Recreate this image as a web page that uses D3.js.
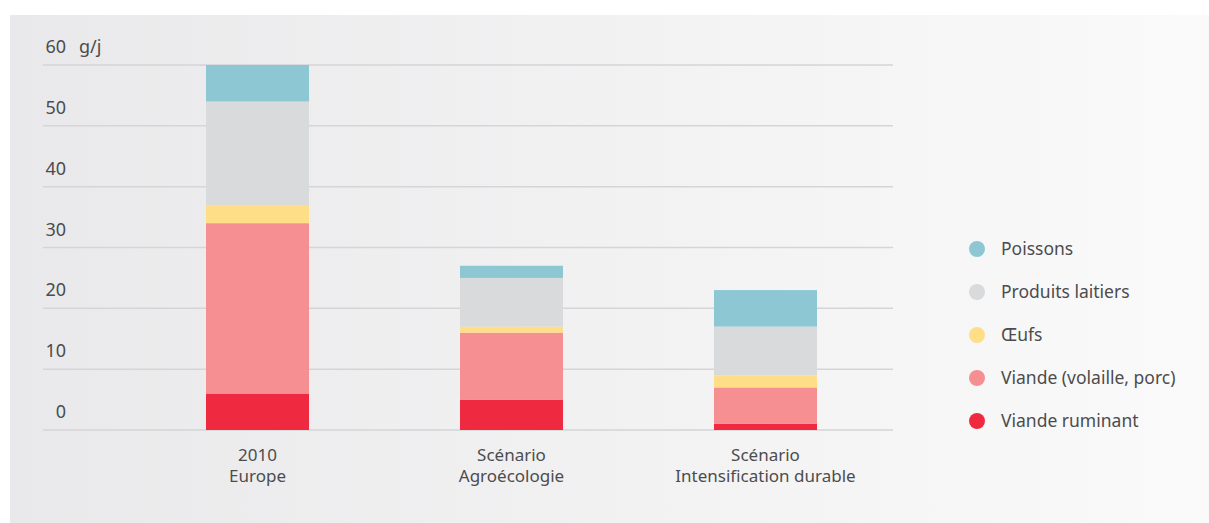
<!DOCTYPE html>
<html>
<head>
<meta charset="utf-8">
<script src="https://cdn.jsdelivr.net/npm/d3@7"></script>
<style>
	body { margin: 0; background: #fff; }
	text { font-family: "Noto Sans", "Open Sans", sans-serif; fill: #4c4c4e; }
</style>
</head>
<body>
<div id="chart"></div>
<script>
// categories (2 lines each)
var categories = [["2010", "Europe"], ["Scénario", "Agroécologie"], ["Scénario", "Intensification durable"]];
// series, bottom to top
var series = ["Viande ruminant", "Viande (volaille, porc)", "Œufs", "Produits laitiers", "Poissons"];
var colors = ["#ef2a40", "#f58f92", "#ffde88", "#d9dadc", "#8cc7d3"];
var values = [
	[6, 5, 1],      // viande ruminant
	[28, 11, 6],    // volaille, porc
	[3, 1, 2],      // oeufs
	[17, 8, 8],     // produits laitiers
	[6, 2, 6]       // poissons
];
var yTicks = [0, 10, 20, 30, 40, 50, 60];

var W = 1209, H = 523;

var svg = d3.select("#chart").append("svg")
	.attr("width", W)
	.attr("height", H);

// background panel with gradient
var grad = svg.append("defs").append("linearGradient")
	.attr("id", "bg").attr("x1", "0").attr("x2", "1").attr("y1", "0").attr("y2", "0");
grad.append("stop").attr("offset", "0").attr("stop-color", "#e9e9eb");
grad.append("stop").attr("offset", "1").attr("stop-color", "#fafafa");
svg.append("rect").attr("x", 10).attr("y", 15).attr("width", W - 10).attr("height", H - 15)
	.attr("fill", "url(#bg)");

var y = d3.scaleLinear().domain([0, 60]).range([430, 65]);
var x = d3.scalePoint().domain(d3.range(categories.length)).range([130.5, 892.5]).padding(0.5);
var barW = 103;

// gridlines
svg.selectAll("line.grid")
	.data(yTicks)
	.enter().append("line")
		.attr("class", "grid")
		.attr("x1", 43).attr("x2", 893)
		.attr("y1", function(d){return y(d)})
		.attr("y2", function(d){return y(d)})
		.attr("stroke", "#d5d5d7")
		.attr("stroke-width", 1.5);

// y labels, above the lines
svg.selectAll("text.ylab")
	.data(yTicks)
	.enter().append("text")
		.attr("class", "ylab")
		.attr("x", 66)
		.attr("y", function(d){return y(d) - 12})
		.attr("text-anchor", "end")
		.style("font-size", "18px")
		.text(function(d){return d});
svg.append("text").attr("x", 79).attr("y", y(60) - 12).style("font-size", "18px").text("g/j");

// stacked bars
var table = categories.map(function(c, i){
	var o = {i: i};
	series.forEach(function(s, k){ o[s] = values[k][i] });
	return o;
});
var stacked = d3.stack().keys(series)(table);

svg.selectAll("g.layer")
	.data(stacked)
	.enter().append("g")
		.attr("class", "layer")
		.attr("fill", function(d, k){return colors[k]})
	.selectAll("rect")
	.data(function(d){return d})
	.enter().append("rect")
		.attr("x", function(d){return x(d.data.i) - barW / 2})
		.attr("width", barW)
		.attr("y", function(d){return y(d[1])})
		.attr("height", function(d){return y(d[0]) - y(d[1])});

// category labels
categories.forEach(function(c, i){
	var t = svg.append("text")
		.attr("x", x(i))
		.attr("y", 461)
		.attr("text-anchor", "middle")
		.style("font-size", "17px");
	t.append("tspan").attr("x", x(i)).text(c[0]);
	t.append("tspan").attr("x", x(i)).attr("dy", 21).text(c[1]);
});

// legend, top to bottom is reverse of stack
var legend = series.slice().reverse();
var legendCol = colors.slice().reverse();
var lg = svg.selectAll("g.leg")
	.data(legend)
	.enter().append("g")
		.attr("class", "leg")
		.attr("transform", function(d, k){return "translate(977," + (249 + k * 43) + ")"});
lg.append("circle").attr("r", 8).attr("fill", function(d, k){return legendCol[k]});
lg.append("text").attr("x", 24).attr("y", 6).style("font-size", "17.5px").text(function(d){return d});
</script>
</body>
</html>
